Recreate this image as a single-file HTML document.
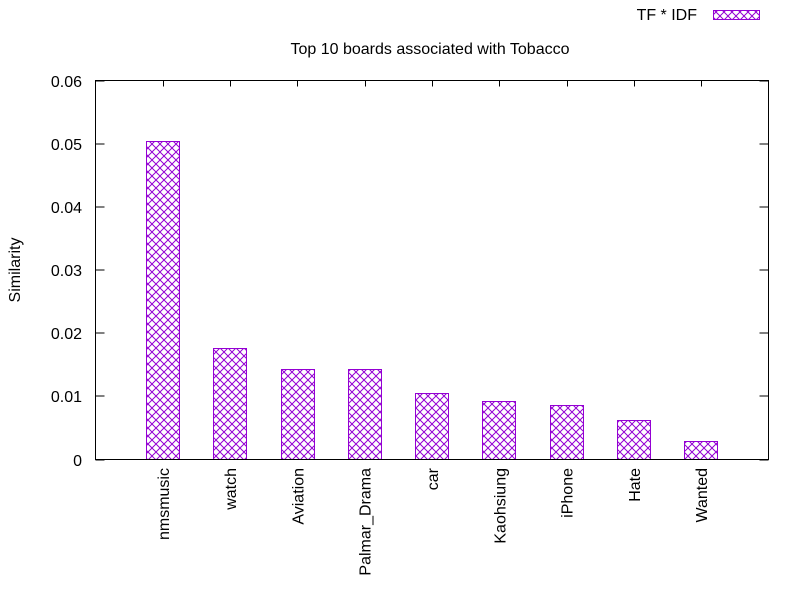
<!DOCTYPE html>
<html><head><meta charset="utf-8"><style>
body{margin:0;background:#fff}
svg text{font-family:"Liberation Sans",sans-serif;font-size:16px;fill:#000}
</style></head><body>
<svg id="chart" width="800" height="600" viewBox="0 0 800 600">
<defs>
<pattern id="hatch" patternUnits="userSpaceOnUse" width="8" height="8">
<rect width="8" height="8" fill="#fff"/>
<path d="M0,0 L8,8 M8,0 L0,8" stroke="#9400d3" stroke-width="1" fill="none"/>
</pattern>
</defs>
<rect x="0" y="0" width="800" height="600" fill="#fff"/>
<text x="430" y="54" text-anchor="middle">Top 10 boards associated with Tobacco</text>
<text transform="translate(20,270) rotate(-90)" text-anchor="middle">Similarity</text>
<g>
<text x="697" y="20" text-anchor="end">TF * IDF</text>
<rect x="713.5" y="10.5" width="46" height="9" fill="url(#hatch)" stroke="#9400d3"/>
</g>
<g id="axes"></g>
<g id="bars"></g>
<rect x="95.5" y="80.5" width="673" height="379" fill="none" stroke="#000"/>
</svg>
<script>
const categories=["nmsmusic","watch","Aviation","Palmar_Drama","car","Kaohsiung","iPhone","Hate","Wanted"];
const values=[0.0505,0.0176,0.0144,0.0144,0.0106,0.0092,0.0087,0.0062,0.0030];
const yTicks=[0,0.01,0.02,0.03,0.04,0.05,0.06];
const yTickLabels=["0","0.01","0.02","0.03","0.04","0.05","0.06"];
const L=95.5,R=768.5,T=80.5,B=459.5;
const xMin=-1,xMax=9,yMax=0.06;
function xs(i){return L+(i-xMin)/(xMax-xMin)*(R-L);}
function ys(v){return B-v/yMax*(B-T);}
const NS="http://www.w3.org/2000/svg";
const axes=document.getElementById('axes'),bars=document.getElementById('bars');
yTicks.forEach((t,k)=>{
  const y=Math.round(ys(t));
  const l1=document.createElementNS(NS,'path');
  l1.setAttribute('d',`M${L},${y}h9M${R},${y}h-9`);
  l1.setAttribute('stroke','#000');
  
  
  axes.appendChild(l1);
  const tx=document.createElementNS(NS,'text');
  tx.setAttribute('x',82);tx.setAttribute('y',y+6);tx.setAttribute('text-anchor','end');
  tx.textContent=yTickLabels[k];
  
  
  axes.appendChild(tx);
});
const bw=(R-L)/(xMax-xMin)*0.5;
categories.forEach((c,i)=>{
  const cx=xs(i);
  const tk=document.createElementNS(NS,'path');
  tk.setAttribute('d',`M${Math.round(cx)+0.5},${B}v-9M${Math.round(cx)+0.5},${T}v6`);
  tk.setAttribute('stroke','#000');
  
  
  axes.appendChild(tk);
  const r=document.createElementNS(NS,'rect');
  const y=ys(values[i]);
  r.setAttribute('x',Math.round(cx-bw/2)+0.5);r.setAttribute('y',Math.round(y)+0.5);
  r.setAttribute('width',Math.round(bw)-1);r.setAttribute('height',B-Math.round(y)-0.5);
  r.setAttribute('fill','url(#hatch)');r.setAttribute('stroke','#9400d3');
  
  
  bars.appendChild(r);
  const tx=document.createElementNS(NS,'text');
  tx.setAttribute('transform',`translate(${cx+6},468) rotate(-90)`);
  tx.setAttribute('text-anchor','end');
  tx.textContent=c;
  
  
  axes.appendChild(tx);
});
</script>
</body></html>
